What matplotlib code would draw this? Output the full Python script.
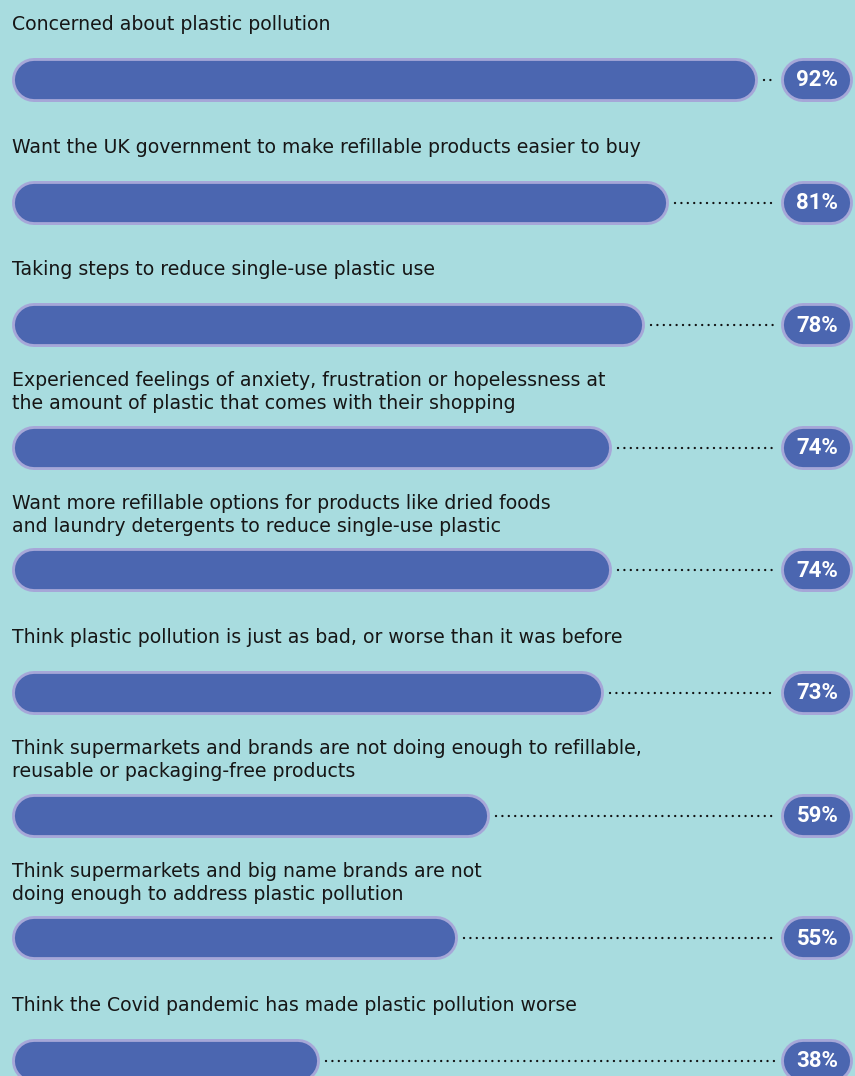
import matplotlib
matplotlib.use("Agg")
import matplotlib.pyplot as plt

# Survey results (share of respondents, %)
labels = [
    "Concerned about plastic pollution",
    "Want the UK government to make refillable products easier to buy",
    "Taking steps to reduce single-use plastic use",
    "Experienced feelings of anxiety, frustration or hopelessness at\nthe amount of plastic that comes with their shopping",
    "Want more refillable options for products like dried foods\nand laundry detergents to reduce single-use plastic",
    "Think plastic pollution is just as bad, or worse than it was before",
    "Think supermarkets and brands are not doing enough to refillable,\nreusable or packaging-free products",
    "Think supermarkets and big name brands are not\ndoing enough to address plastic pollution",
    "Think the Covid pandemic has made plastic pollution worse",
]
values = [92, 81, 78, 74, 74, 73, 59, 55, 38]

BG = "#a8dcdf"
BAR = "#4b66b0"
EDGE = "#a6a7d8"
TEXT = "#161616"

W, H, DPI = 855, 1076, 100
PT = 72 / DPI  # points per pixel

fig = plt.figure(figsize=(W / DPI, H / DPI), dpi=DPI, facecolor=BG)
ax = fig.add_axes([0, 0, 1, 1])
ax.set_facecolor(BG)
ax.axis("off")

# x axis in percent, y axis in row index
px_per_pct = 8.11
x0_px = 12
row_px = 122.6
first_row_px = 80
ax.set_xlim(-x0_px / px_per_pct, (W - x0_px) / px_per_pct)
ax.set_ylim((H - first_row_px) / row_px, -first_row_px / row_px)

bar_h_px = 44          # outer height of the pills
edge_px = 2.9          # lavender rim
r = bar_h_px / 2 / px_per_pct   # cap radius in percent units

badge_c = 99.3
badge_half = 36 / px_per_pct
dots_end = 94.0
dot_gap = 6 / px_per_pct
label_off = 55.5 / row_px


def pill(x_start, x_end, y):
    """Rounded bar whose outer extent runs from x_start to x_end."""
    xs = [x_start + r, x_end - r]
    ax.plot(xs, [y, y], color=EDGE, lw=bar_h_px * PT,
            solid_capstyle="round", zorder=3)
    ax.plot(xs, [y, y], color=BAR, lw=(bar_h_px - 2 * edge_px) * PT,
            solid_capstyle="round", zorder=3.5)


for i, (lab, v) in enumerate(zip(labels, values)):
    pill(0, v, i)
    pill(badge_c - badge_half, badge_c + badge_half, i)
    ax.text(badge_c, i + 0.004, f"{v}%", ha="center", va="center", color="white",
            fontsize=16, fontweight="bold", family="Roboto", zorder=4)
    # dotted leader
    ax.plot([v + dot_gap, dots_end], [i, i], color="#111111", lw=1.7,
            linestyle=(0, (0.01, 2.7)), dash_capstyle="round", zorder=2)
    # category label
    ax.text(0, i - label_off, lab, ha="left", va="center", color=TEXT,
            fontsize=13.6, linespacing=1.26)

fig.savefig("out.png", dpi=DPI, facecolor=BG)
